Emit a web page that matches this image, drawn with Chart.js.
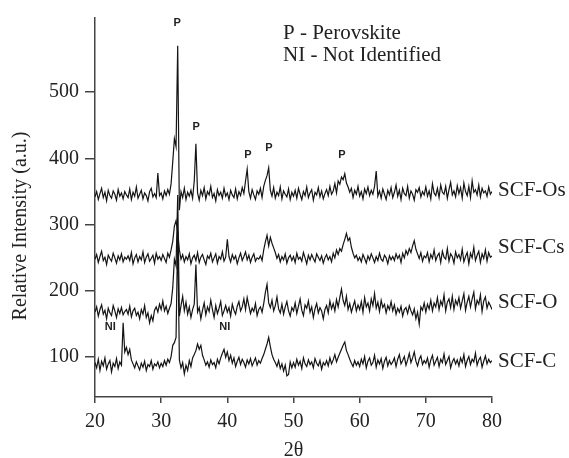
<!DOCTYPE html>
<html lang="en">
	<head>
		<meta charset="UTF-8">
		<script src="https://cdn.jsdelivr.net/npm/chart.js"></script>
		<title>XRD</title>
		<style>
			html, body { margin: 0; padding: 0; background: #fff; }
			#wrap { width: 569px; height: 458px; }
		</style>
	</head>
	<body>
		<div id="wrap"><canvas id="xrdChart" width="569" height="458"></canvas></div>
		<script>
			// 2θ grid: 20 .. 80, step 0.25
			var thetaStart = 20;
			var thetaStep = 0.25;

			var seriesNames = ['SCF-Os', 'SCF-Cs', 'SCF-O', 'SCF-C'];
			var seriesLabelY = [351, 266, 182, 94];

			var scfOs = [
				342,350,338,347,355,341,349,336,352,344,340,351,346,337,353,343,348,339,350,345,
				341,354,338,349,343,357,340,346,352,339,348,344,336,350,355,342,347,341,378,344,
				348,339,351,344,353,346,362,395,430,418,570,322,350,341,355,338,349,343,352,340,
				366,422,348,337,352,344,356,339,350,345,358,341,347,336,353,344,349,340,355,343,
				348,338,352,345,341,354,339,350,344,356,347,366,384,350,340,353,345,338,351,346,
				355,341,358,367,374,386,352,343,356,340,349,344,357,339,351,346,342,354,338,349,
				343,352,340,355,346,338,350,344,357,341,348,353,337,349,345,356,342,351,339,347,
				353,344,358,346,351,362,348,366,361,372,368,377,363,357,349,355,341,352,346,358,
				343,350,339,354,347,357,344,352,346,358,381,343,351,340,354,346,338,352,345,356,
				341,349,360,343,352,338,355,347,344,358,340,351,346,337,353,349,356,342,350,345,
				357,343,351,339,362,348,344,355,341,360,349,346,358,340,353,364,345,351,342,359,
				347,356,340,363,350,344,358,341,366,349,353,345,360,342,355,348,351,343,357,346,
				350
			];

			var scfCs = [
				248,255,243,252,260,246,251,240,254,249,245,257,250,242,253,247,256,244,251,248,
				253,246,258,241,250,255,244,252,247,259,243,251,256,245,249,254,242,257,248,252,
				246,255,249,243,257,251,262,275,298,306,290,262,248,255,244,252,247,256,241,250,
				254,246,258,243,251,255,247,240,253,249,257,244,250,256,242,252,248,259,245,251,
				278,252,244,255,248,253,241,250,257,246,252,259,247,254,243,251,256,245,250,248,
				253,246,262,274,284,268,281,272,265,258,249,255,244,252,247,256,242,250,254,246,
				252,243,257,248,251,245,258,250,241,254,247,255,249,244,256,251,246,253,242,250,
				255,247,252,244,257,250,262,255,264,260,270,278,287,276,280,266,257,250,254,246,
				251,244,255,249,242,253,247,256,250,243,252,246,257,248,245,254,250,241,253,247,
				252,246,256,249,254,243,257,250,261,255,264,258,268,276,263,256,249,258,245,253,
				250,258,244,255,249,262,246,253,257,243,260,251,248,264,245,256,252,242,259,250,
				255,247,263,244,252,258,241,257,250,266,246,254,260,243,256,249,262,245,258,251,
				253
			];

			var scfO = [
				168,176,162,172,179,165,171,158,174,167,163,178,170,160,173,166,175,164,169,172,
				165,177,161,170,174,163,168,158,172,165,178,160,167,152,163,155,171,176,168,180,
				172,185,170,177,166,174,181,205,248,238,345,162,178,192,170,183,165,176,160,172,
				180,240,168,175,158,171,182,164,176,169,186,172,160,178,166,174,184,163,170,178,
				168,175,162,180,171,165,177,184,170,176,188,172,190,178,166,174,169,181,163,172,
				176,168,181,198,210,182,175,186,170,178,191,173,167,180,165,176,184,170,162,175,
				170,182,166,177,188,171,163,179,174,185,168,176,160,173,181,167,175,170,158,172,
				178,167,185,173,181,170,187,176,190,203,186,178,192,172,181,168,177,185,170,179,
				172,184,168,190,176,182,170,188,178,196,174,183,169,186,175,180,167,178,172,184,
				170,179,165,174,168,177,162,172,175,166,178,170,164,173,158,168,150,176,171,182,
				168,180,173,186,170,182,176,190,172,185,178,194,170,183,188,175,192,172,186,179,
				190,174,185,196,171,183,192,176,188,198,173,186,180,194,169,185,191,174,183,178,
				172
			];

			var scfC = [
				92,84,97,80,94,87,99,82,90,95,78,91,86,98,83,93,88,152,108,115,
				104,112,96,90,84,93,87,81,91,85,94,80,89,86,95,82,90,87,93,84,
				91,86,95,88,97,92,101,118,122,130,290,96,84,92,75,88,80,95,86,99,
				104,110,120,112,118,103,96,88,93,85,96,89,92,84,97,90,99,106,112,100,
				108,95,103,91,99,86,94,100,89,97,92,85,96,90,98,87,93,99,88,95,
				91,98,104,112,120,130,116,104,97,92,86,95,83,90,79,88,72,74,93,84,
				92,85,97,88,94,83,99,90,86,96,89,93,84,98,91,87,95,82,92,88,
				95,87,99,90,96,104,93,100,106,112,118,123,110,104,97,91,86,95,88,93,
				86,97,90,101,84,94,99,88,92,103,85,96,90,98,83,94,100,87,95,89,
				93,99,86,97,104,90,95,101,88,96,106,92,99,108,94,87,97,102,89,95,
				91,99,85,96,103,88,94,100,86,97,92,105,89,95,101,84,93,98,90,96,
				87,99,92,104,86,95,101,89,97,93,106,88,96,100,85,94,102,90,97,92,
				95
			];

			var markText = ['P', 'P', 'P', 'P', 'P', 'NI', 'NI'];
			var markX = [32.4, 35.3, 43.1, 46.3, 57.3, 22.3, 39.6];
			var markY = [604, 448, 406, 416, 406, 145, 145];

			var legendLines = ['P - Perovskite', 'NI - Not Identified'];

			var xTicks = [20, 30, 40, 50, 60, 70, 80];
			var yTicks = [100, 200, 300, 400, 500];

			function toPoints(values) {
				return values.map(function(v, i) {
					return { x: thetaStart + i * thetaStep, y: v };
				});
			}

			var serif = "'Liberation Serif', 'Times New Roman', serif";

			var textPlugin = {
				id: 'xrdText',
				afterDraw: function(chart) {
					var ctx = chart.ctx;
					var xs = chart.scales.x;
					var ys = chart.scales.y;
					var area = chart.chartArea;
					ctx.save();
					ctx.fillStyle = '#222';

					// peak marks
					ctx.font = "bold 11px 'Liberation Sans', Arial, sans-serif";
					ctx.textAlign = 'center';
					ctx.textBaseline = 'middle';
					for (var i = 0; i < markText.length; i++) {
						ctx.fillText(markText[i], xs.getPixelForValue(markX[i]), ys.getPixelForValue(markY[i]));
					}

					// series names
					ctx.font = '21px ' + serif;
					ctx.textAlign = 'left';
					for (var j = 0; j < seriesNames.length; j++) {
						ctx.fillText(seriesNames[j], area.right + 6, ys.getPixelForValue(seriesLabelY[j]));
					}

					// key text
					ctx.fillText(legendLines[0], 283, 33);
					ctx.fillText(legendLines[1], 283, 55);

					// y title
					ctx.font = '20px ' + serif;
					ctx.translate(21, 226);
					ctx.rotate(-Math.PI / 2);
					ctx.textAlign = 'center';
					ctx.fillText('Relative Intensity (a.u.)', 0, 0);
					ctx.restore();
				}
			};

			var ctx = document.getElementById('xrdChart').getContext('2d');
			var lineStyle = {
				borderColor: '#141414',
				borderWidth: 1.2,
				pointRadius: 0,
				fill: false,
				tension: 0
			};
			var myChart = new Chart(ctx, {
				type: 'line',
				data: {
					datasets: [
						Object.assign({ label: seriesNames[0], data: toPoints(scfOs) }, lineStyle),
						Object.assign({ label: seriesNames[1], data: toPoints(scfCs) }, lineStyle),
						Object.assign({ label: seriesNames[2], data: toPoints(scfO) }, lineStyle),
						Object.assign({ label: seriesNames[3], data: toPoints(scfC) }, lineStyle)
					]
				},
				options: {
					responsive: false,
					animation: false,
					layout: { padding: { left: 0, right: 77, top: 15, bottom: 0 } },
					plugins: {
						legend: { display: false },
						tooltip: { enabled: false }
					},
					scales: {
						x: {
							type: 'linear',
							min: 20,
							max: 80,
							afterBuildTicks: function(scale) {
								scale.ticks = xTicks.map(function(v) { return { value: v }; });
							},
							afterFit: function(scale) { scale.height = 61; },
							grid: { drawOnChartArea: false, drawTicks: true, tickLength: 6, color: '#444', lineWidth: 1.5 },
							border: { display: true, color: '#444', width: 1.5 },
							ticks: { color: '#222', padding: 7, font: { family: serif, size: 20 } },
							title: { display: true, text: '2θ', color: '#222', padding: { top: 0, bottom: 0 }, font: { family: serif, size: 20, lineHeight: 0.75 } }
						},
						y: {
							min: 40,
							max: 612,
							afterBuildTicks: function(scale) {
								scale.ticks = yTicks.map(function(v) { return { value: v }; });
							},
							afterFit: function(scale) { scale.width = 95; },
							grid: { drawOnChartArea: false, drawTicks: true, tickLength: 10, color: '#444', lineWidth: 1.5 },
							border: { display: true, color: '#444', width: 1.5 },
							ticks: { color: '#222', padding: 6, font: { family: serif, size: 20 } }
						}
					}
				},
				plugins: [textPlugin]
			});
		</script>
	</body>
</html>
